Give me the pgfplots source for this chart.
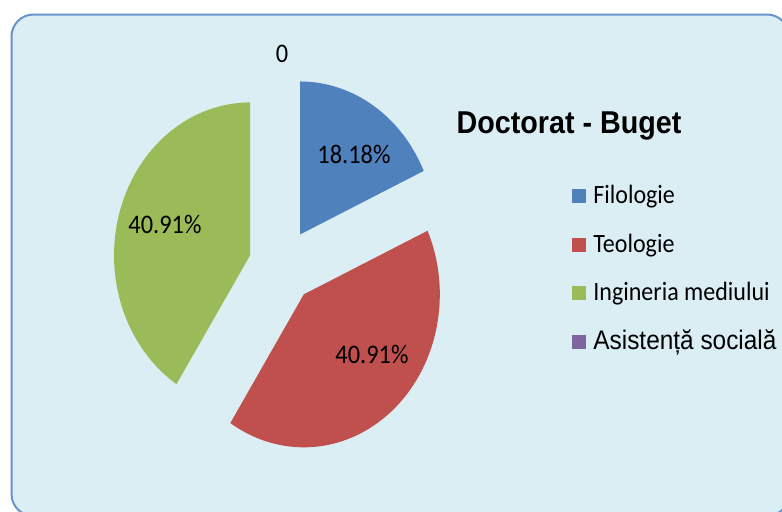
\documentclass[border=0pt]{standalone}
\usepackage{fontspec}
\setmainfont{Carlito}
\newfontfamily\arialf{Liberation Sans}
\usepackage{graphicx}
\usepackage{pgfplots}
\usepackage{pgfplotstable}
\pgfplotsset{compat=1.18}
\definecolor{sBlue}{HTML}{4F81BD}
\definecolor{sRed}{HTML}{C0504D}
\definecolor{sGreen}{HTML}{9BBB59}
\definecolor{sPurple}{HTML}{8064A2}
\definecolor{bgBlue}{HTML}{DBEEF4}
\definecolor{bdBlue}{HTML}{6A93CC}

\pgfplotstableread{
name value
Filologie 18.18
Teologie 40.91
Inginerie 40.91
Asistenta 0
}\piedata
\pgfplotstablegetelem{0}{value}\of\piedata \let\vA\pgfplotsretval
\pgfplotstablegetelem{1}{value}\of\piedata \let\vB\pgfplotsretval
\pgfplotstablegetelem{2}{value}\of\piedata \let\vC\pgfplotsretval
\pgfplotstablegetelem{3}{value}\of\piedata \let\vD\pgfplotsretval

% pie geometry in pixel units (x right, y down)
\def\cx{282}\def\cy{266}\def\rx{136}\def\ry{153}\def\ex{0.245}
\pgfmathsetmacro{\aA}{90}
\pgfmathsetmacro{\aB}{\aA-3.6*\vA}
\pgfmathsetmacro{\aC}{\aB-3.6*\vB}
\pgfmathsetmacro{\aD}{\aC-3.6*\vC}
\pgfmathsetmacro{\mA}{(\aA+\aB)/2}
\pgfmathsetmacro{\mB}{(\aB+\aC)/2}
\pgfmathsetmacro{\mC}{(\aC+\aD)/2}
\pgfmathsetmacro{\pxA}{\cx+\ex*\rx*cos(\mA)}\pgfmathsetmacro{\pyA}{\cy-\ex*\ry*sin(\mA)}
\pgfmathsetmacro{\pxB}{\cx+\ex*\rx*cos(\mB)}\pgfmathsetmacro{\pyB}{\cy-\ex*\ry*sin(\mB)}
\pgfmathsetmacro{\pxC}{\cx+\ex*\rx*cos(\mC)}\pgfmathsetmacro{\pyC}{\cy-\ex*\ry*sin(\mC)}

\newcommand{\st}[1]{\scalebox{1}[1.1]{#1}}

\begin{document}
\begin{tikzpicture}
\path[use as bounding box] (0,0) rectangle (391pt,255.5pt);
\clip (0,0) rectangle (391pt,255.5pt);
\fill[white] (0,0) rectangle (391pt,255.5pt);
\begin{axis}[
  at={(0,0)}, anchor=south west,
  scale only axis, width=391pt, height=255.5pt,
  xmin=0, xmax=782, ymin=0, ymax=511, y dir=reverse,
  hide axis,
  legend cell align=left,
  legend image code/.code={\fill[#1] (0pt,0.2pt) rectangle (7pt,7.2pt);},
  legend style={draw=none, fill=none, at={(566/782,1-182/511)}, anchor=north west,
    row sep=13.85pt, column sep=0pt,
    nodes={inner sep=0pt, inner xsep=3.5pt, text height=8.5pt, text depth=2pt, anchor=base west},
    font=\fontsize{12}{14}\selectfont},
]
\fill[bgBlue, draw=bdBlue, line width=1pt, rounded corners=11pt]
  (axis cs:11.5,14.5) rectangle (axis cs:789,516);

\addplot[fill=sBlue, draw=none, domain=\aB:\aA, samples=80, variable=\t]
  ({\pxA+\rx*cos(\t)}, {\pyA-\ry*sin(\t)}) -- (axis cs:\pxA,\pyA) -- cycle;
\addlegendentry{\st{Filologie}}
\addplot[fill=sRed, draw=none, domain=\aC:\aB, samples=120, variable=\t]
  ({\pxB+\rx*cos(\t)}, {\pyB-\ry*sin(\t)}) -- (axis cs:\pxB,\pyB) -- cycle;
\addlegendentry{\st{Teologie}}
\addplot[fill=sGreen, draw=none, domain=\aD:\aC, samples=120, variable=\t]
  ({\pxC+\rx*cos(\t)}, {\pyC-\ry*sin(\t)}) -- (axis cs:\pxC,\pyC) -- cycle;
\addlegendentry{\st{Ingineria mediului}}
\addlegendimage{fill=sPurple, draw=none}
\addlegendentry{\st{\arialf\fontsize{12.2}{14}\selectfont Asistență socială}}

\node[font=\fontsize{12.2}{14}\selectfont] at (axis cs:354,154) {\st{18.18\%}};
\node[font=\fontsize{12.2}{14}\selectfont] at (axis cs:372,354) {\st{40.91\%}};
\node[font=\fontsize{12.2}{14}\selectfont] at (axis cs:165,224) {\st{40.91\%}};
\node[font=\fontsize{12.2}{14}\selectfont] at (axis cs:282,54) {\st{0}};
\node[font=\arialf\bfseries\fontsize{14.35}{16}\selectfont] at (axis cs:569,125.5) {\st{Doctorat - Buget}};
\end{axis}
\end{tikzpicture}
\end{document}
